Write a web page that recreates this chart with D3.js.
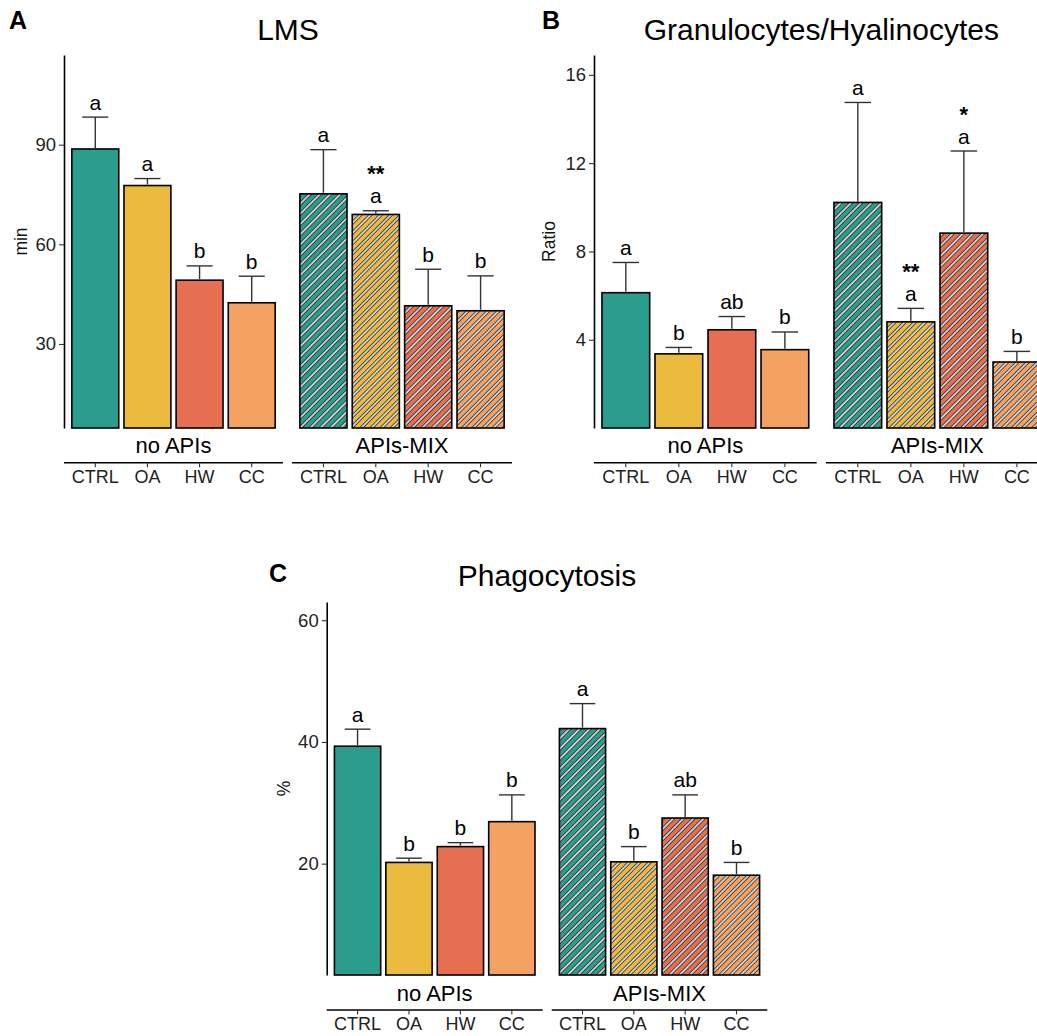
<!DOCTYPE html>
<meta charset="utf-8">
<style>
body { margin: 0; background: #fff; }
text { font-family: "Liberation Sans", Arial, sans-serif; }
</style>
<body>
<script src="https://cdn.jsdelivr.net/npm/d3@7"></script>
<script>

// categories
const treatments = ["CTRL", "OA", "HW", "CC"];
const groups = ["no APIs", "APIs-MIX"];

// LMS (min)
const lmsNoApis = [88.7, 77.7, 49.2, 42.4];
const lmsNoApisSe = [9.6, 2.1, 4.3, 8.0];
const lmsMix = [75.2, 69.0, 41.5, 40.0];
const lmsMixSe = [13.3, 1.1, 11.0, 10.5];
const lmsLetters = [["a", "a", "b", "b"], ["a", "a", "b", "b"]];
const lmsStars = [["", "", "", ""], ["", "**", "", ""]];
const lmsTicks = [30, 60, 90];

// Granulocytes/Hyalinocytes (ratio)
const ratioNoApis = [6.13, 3.36, 4.45, 3.55];
const ratioNoApisSe = [1.37, 0.29, 0.60, 0.80];
const ratioMix = [10.22, 4.81, 8.83, 2.99];
const ratioMixSe = [4.53, 0.61, 3.72, 0.48];
const ratioLetters = [["a", "b", "ab", "b"], ["a", "a", "a", "b"]];
const ratioStars = [["", "", "", ""], ["", "**", "*", ""]];
const ratioTicks = [4, 8, 12, 16];

// Phagocytosis (%)
const phagoNoApis = [39.3, 20.2, 22.8, 26.9];
const phagoNoApisSe = [2.8, 0.7, 0.65, 4.4];
const phagoMix = [42.2, 20.3, 27.5, 18.1];
const phagoMixSe = [4.1, 2.5, 3.8, 2.1];
const phagoLetters = [["a", "b", "b", "b"], ["a", "b", "ab", "b"]];
const phagoStars = [["", "", "", ""], ["", "", "", ""]];
const phagoTicks = [20, 40, 60];

const fills = ["#2A9D8F", "#ECBA3F", "#E76F51", "#F4A261"];

const svg = d3.select("body").append("svg")
  .attr("width", 1037)
  .attr("height", 1036);

svg.append("rect").attr("width", 1037).attr("height", 1036).attr("fill", "#fff");

// hatch patterns for the APIs-MIX bars
const defs = svg.append("defs");
fills.forEach((c, i) => {
  const p = defs.append("pattern")
    .attr("id", "hatch" + i)
    .attr("patternUnits", "userSpaceOnUse")
    .attr("width", 10)
    .attr("height", 7.2)
    .attr("patternTransform", "rotate(-45)");
  p.append("rect").attr("width", 10).attr("height", 7.2).attr("fill", c);
  p.append("line").attr("x1", 0).attr("x2", 10).attr("y1", 3.6).attr("y2", 3.6)
    .attr("stroke", "#2e2e2e").attr("stroke-width", 3.3);
  p.append("line").attr("x1", 0).attr("x2", 10).attr("y1", 3.6).attr("y2", 3.6)
    .attr("stroke", "#fff").attr("stroke-width", 1.4);
});

function panel(o) {
  const g = svg.append("g");
  const y = d3.scaleLinear().domain(o.yDomain).range([o.bottom, o.top]);

  const ax = g.append("g")
    .attr("transform", `translate(${o.facets[0][0]},0)`)
    .call(d3.axisLeft(y).tickValues(o.ticks).tickSize(5).tickSizeOuter(0).tickPadding(3));
  ax.select(".domain").attr("stroke", "#000").attr("stroke-width", 1.6);
  ax.selectAll(".tick line").attr("stroke", "#333").attr("stroke-width", 1.1);
  ax.selectAll(".tick text").attr("font-size", 18.5).attr("fill", "#222")
    .attr("font-family", "Liberation Sans, Arial, sans-serif");

  // y axis title
  g.append("text")
    .attr("transform", `translate(${o.ylabX},${(o.top + o.bottom) / 2}) rotate(-90)`)
    .attr("text-anchor", "middle")
    .attr("dy", "0.35em")
    .attr("font-size", 17.5)
    .attr("fill", "#111")
    .text(o.ylab);

  // title
  g.append("text")
    .attr("x", (o.facets[0][0] + o.facets[1][1]) / 2)
    .attr("y", o.titleY)
    .attr("text-anchor", "middle")
    .attr("font-size", 30)
    .attr("fill", "#000")
    .text(o.title);

  // panel letter
  g.append("text")
    .attr("x", o.tag[1])
    .attr("y", o.tag[2])
    .attr("font-family", "Open Sans, sans-serif")
    .attr("font-weight", 700)
    .attr("font-size", 25)
    .attr("fill", "#000")
    .text(o.tag[0]);

  groups.forEach((grp, gi) => {
    const x = d3.scaleBand().domain(treatments).range(o.facets[gi])
      .paddingInner(0.1).paddingOuter(0.15);
    const vals = o.values[gi], ses = o.se[gi];
    const rows = treatments.map((t, i) => ({ t, i, v: vals[i], se: ses[i] }));
    const cap = x.step() * 0.5;

    const f = g.append("g");
    f.selectAll("rect.bar").data(rows).join("rect")
      .attr("class", "bar")
      .attr("x", d => x(d.t))
      .attr("width", x.bandwidth())
      .attr("y", d => y(d.v))
      .attr("height", d => o.bottom - y(d.v))
      .attr("fill", d => gi == 0 ? fills[d.i] : `url(#hatch${d.i})`)
      .attr("stroke", "#000")
      .attr("stroke-width", 1.6);

    // error bars (upper only)
    const eb = f.selectAll("g.err").data(rows).join("g").attr("class", "err")
      .attr("stroke", "#333").attr("stroke-width", 1.4);
    eb.append("line")
      .attr("x1", d => x(d.t) + x.bandwidth() / 2)
      .attr("x2", d => x(d.t) + x.bandwidth() / 2)
      .attr("y1", d => y(d.v) - 1)
      .attr("y2", d => y(d.v + d.se));
    eb.append("line")
      .attr("x1", d => x(d.t) + x.bandwidth() / 2 - cap / 2)
      .attr("x2", d => x(d.t) + x.bandwidth() / 2 + cap / 2)
      .attr("y1", d => y(d.v + d.se))
      .attr("y2", d => y(d.v + d.se));

    f.selectAll("text.let").data(rows).join("text")
      .attr("class", "let")
      .attr("x", d => x(d.t) + x.bandwidth() / 2)
      .attr("y", d => y(d.v + d.se) - 7.5)
      .attr("text-anchor", "middle")
      .attr("font-size", 21)
      .text(d => o.letters[gi][d.i]);

    f.selectAll("text.star").data(rows).join("text")
      .attr("class", "star")
      .attr("x", d => x(d.t) + x.bandwidth() / 2)
      .attr("y", d => y(d.v + d.se) - 7.5 - 22)
      .attr("text-anchor", "middle")
      .attr("font-size", 22)
      .attr("font-weight", 700)
      .text(d => o.stars[gi][d.i]);

    // strip label + bracket axis
    f.append("text")
      .attr("x", (o.facets[gi][0] + o.facets[gi][1]) / 2)
      .attr("y", o.lineY - 9.5)
      .attr("text-anchor", "middle")
      .attr("font-size", 22)
      .text(grp);
    f.append("line")
      .attr("x1", o.facets[gi][0]).attr("x2", o.facets[gi][1])
      .attr("y1", o.lineY).attr("y2", o.lineY)
      .attr("stroke", "#000").attr("stroke-width", 1.6);
    f.selectAll("line.tk").data(rows).join("line")
      .attr("class", "tk")
      .attr("x1", d => x(d.t) + x.bandwidth() / 2)
      .attr("x2", d => x(d.t) + x.bandwidth() / 2)
      .attr("y1", o.lineY).attr("y2", o.lineY + 4.5)
      .attr("stroke", "#333").attr("stroke-width", 1.1);
    f.selectAll("text.cat").data(rows).join("text")
      .attr("class", "cat")
      .attr("x", d => x(d.t) + x.bandwidth() / 2)
      .attr("y", o.lineY + 20)
      .attr("text-anchor", "middle")
      .attr("font-size", 18)
      .attr("fill", "#222")
      .text(d => d.t);
  });
}

panel({
  title: "LMS", titleY: 40, tag: ["A", 9, 29],
  ylab: "min", ylabX: 21,
  yDomain: [4.7, 117], ticks: lmsTicks, top: 55, bottom: 428,
  facets: [[64, 283], [292, 512]], lineY: 462.7,
  values: [lmsNoApis, lmsMix], se: [lmsNoApisSe, lmsMixSe],
  letters: lmsLetters, stars: lmsStars
});

panel({
  title: "Granulocytes/Hyalinocytes", titleY: 39.5, tag: ["B", 542, 29],
  ylab: "Ratio", ylabX: 549,
  yDomain: [0, 16.9], ticks: ratioTicks, top: 55, bottom: 428,
  facets: [[594, 816.7], [826, 1048.7]], lineY: 462.7,
  values: [ratioNoApis, ratioMix], se: [ratioNoApisSe, ratioMixSe],
  letters: ratioLetters, stars: ratioStars
});

panel({
  title: "Phagocytosis", titleY: 586, tag: ["C", 269, 582],
  ylab: "%", ylabX: 284,
  yDomain: [1.7, 63], ticks: phagoTicks, top: 602, bottom: 975,
  facets: [[326.7, 542.7], [551.7, 767.3]], lineY: 1010,
  values: [phagoNoApis, phagoMix], se: [phagoNoApisSe, phagoMixSe],
  letters: phagoLetters, stars: phagoStars
});

</script>
</body>
